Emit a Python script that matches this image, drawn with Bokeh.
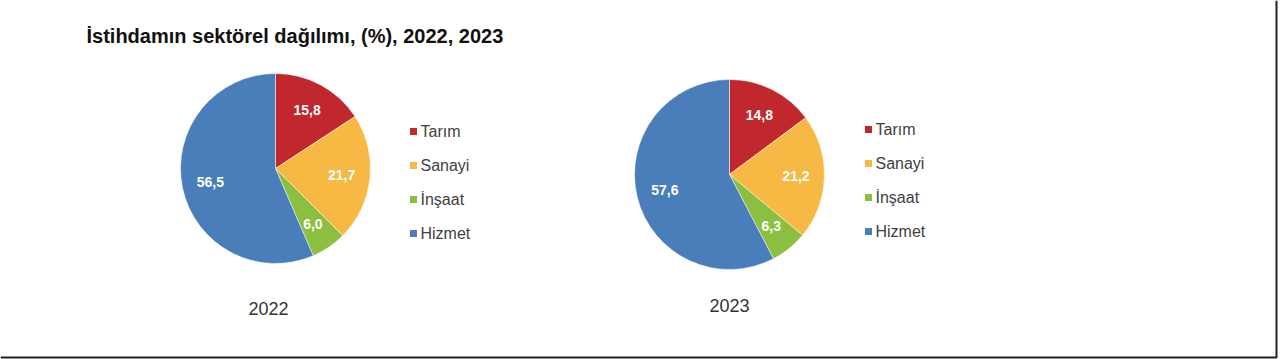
import math
from bokeh.plotting import figure
from bokeh.models import ColumnDataSource, Range1d
from bokeh.core.properties import value
from bokeh.embed import file_html
from bokeh.resources import INLINE

title_text = "İstihdamın sektörel dağılımı, (%), 2022, 2023"
sectors = ["Tarım", "Sanayi", "İnşaat", "Hizmet"]
years = ["2022", "2023"]
values_2022 = [15.8, 21.7, 6.0, 56.5]
values_2023 = [14.8, 21.2, 6.3, 57.6]
labels_2022 = ["15,8", "21,7", "6,0", "56,5"]
labels_2023 = ["14,8", "21,2", "6,3", "57,6"]
colors = ["#C0282D", "#F6B944", "#8CBF3F", "#4A7EBB"]

W, H = 1280, 359
p = figure(width=W, height=H, output_backend="svg", toolbar_location=None,
           x_range=Range1d(0, W), y_range=Range1d(0, H), min_border=0)
p.xaxis.visible = False
p.yaxis.visible = False
p.xgrid.visible = False
p.ygrid.visible = False
p.outline_line_color = None
p.background_fill_color = "white"
p.border_fill_color = "white"

FONT = "Liberation Sans"

def py(page_y):
    return H - page_y

def px(page_x):
    return page_x

pies = [
    (values_2022, labels_2022, px(275), py(168), px(413), py(131), px(268), py(308)),
    (values_2023, labels_2023, px(729), py(174), px(868), py(129), px(729), py(305)),
]
R = 95

for vals, labs, cx, cy, lx, ly, yx, yy, year in [pie + (yr,) for pie, yr in zip(pies, years)]:
    total = sum(vals)
    starts, ends, mids = [], [], []
    acc = 0.0
    for v in vals:
        a0 = acc / total
        acc += v
        a1 = acc / total
        starts.append(math.pi / 2 - a0 * 2 * math.pi)
        ends.append(math.pi / 2 - a1 * 2 * math.pi)
        mids.append(math.pi / 2 - (a0 + a1) / 2 * 2 * math.pi)
    src = ColumnDataSource(dict(
        x=[cx] * 4, y=[cy] * 4, s=starts, e=ends, c=colors,
        tx=[cx + 0.7 * R * math.cos(m) for m in mids],
        ty=[cy + 0.7 * R * math.sin(m) for m in mids],
        t=labs,
    ))
    p.wedge(x="x", y="y", radius=R, start_angle="s", end_angle="e",
            direction="clock", fill_color="c", line_color="white", line_width=0.5,
            source=src)
    p.text(x="tx", y="ty", text="t", source=src, text_color="white",
           text_font=value(FONT), text_font_style="bold", text_font_size="14px",
           text_align="center", text_baseline="middle")
    # legend
    leg = ColumnDataSource(dict(
        x=[lx] * 4, y=[ly - i * 34 for i in range(4)],
        tx=[lx + 7] * 4, t=sectors, c=colors,
    ))
    p.rect(x="x", y="y", width=7, height=7, fill_color="c", line_color=None, source=leg)
    p.text(x="tx", y="y", text="t", source=leg, text_color="#404040",
           text_font=value(FONT), text_font_size="16px", text_baseline="middle",
           text_align="left")
    p.text(x=[yx], y=[yy], text=[year], text_color="#333333",
           text_font=value(FONT), text_font_size="18px",
           text_align="center", text_baseline="middle")

p.text(x=[px(86)], y=[py(35)], text=[title_text], text_color="#111111",
       text_font=value(FONT), text_font_style="bold", text_font_size="20px",
       text_align="left", text_baseline="middle")

# frame lines (right and bottom)
p.line(x=[0, px(1276), px(1276)], y=[py(357), py(357), H], line_color="#222222", line_width=2)

open("out.html", "w").write(file_html(p, INLINE))
